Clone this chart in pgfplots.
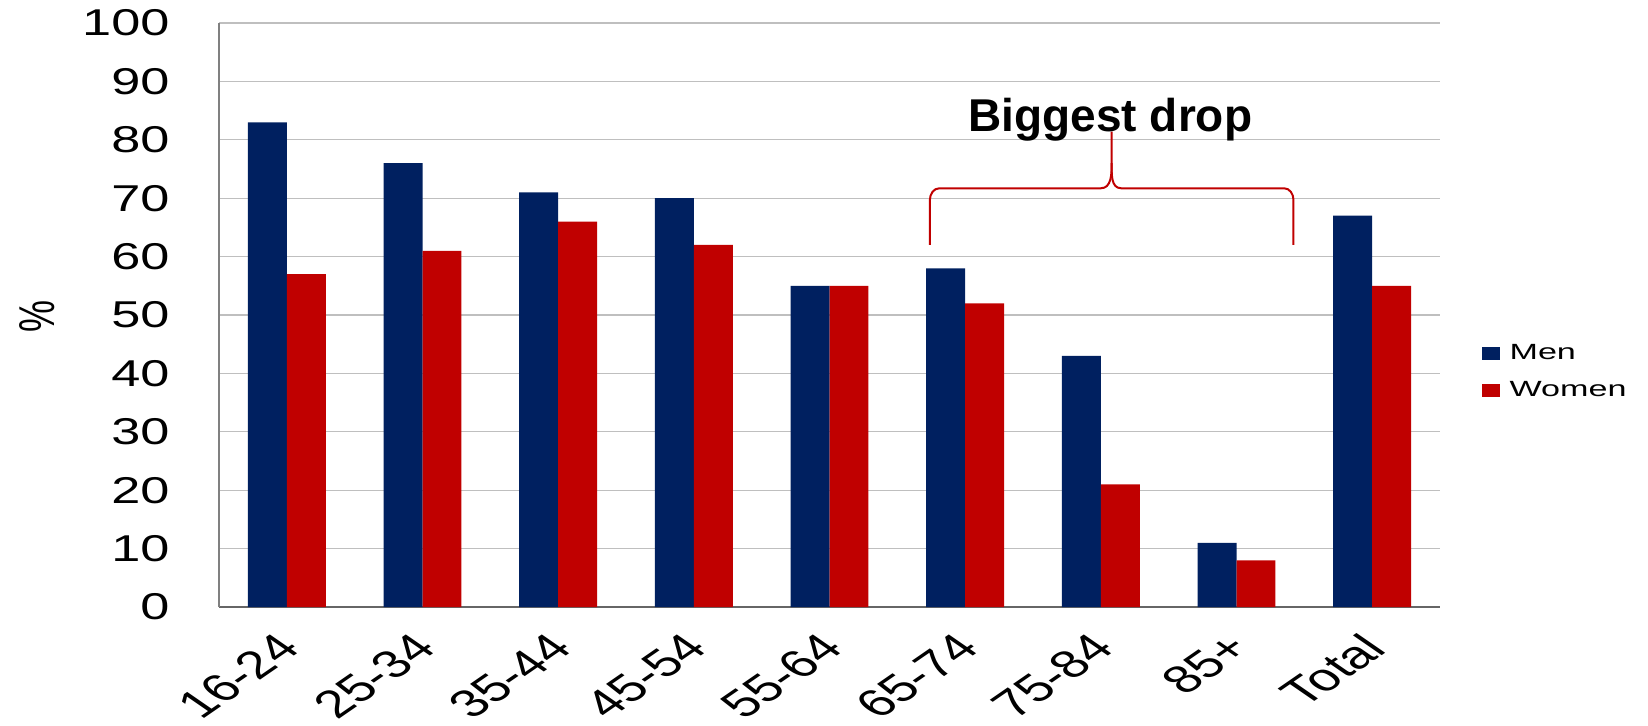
\documentclass[border=0pt]{standalone}
\usepackage{fontspec}
\setmainfont{Liberation Sans}
\newfontfamily\stretchfont{Liberation Sans}[FakeStretch=1.4]
\newfontfamily\legfont{Liberation Sans}[FakeStretch=1.55]
\usepackage{pgfplots}
\pgfplotsset{compat=1.18}
\definecolor{men}{HTML}{002060}
\definecolor{women}{HTML}{C00000}
\definecolor{gridc}{HTML}{BFBFBF}
\begin{document}
\begin{tikzpicture}[x=1pt,y=1pt]
\path[use as bounding box] (0,0) rectangle (1236,543.75);
\begin{axis}[
  at={(164.25pt,88.5pt)}, anchor=south west,
  scale only axis, width=915.75pt, height=438pt,
  xmin=-0.5, xmax=8.5, ymin=0, ymax=100,
  ytick={0,10,...,100},
  xtick={0,...,8},
  xticklabels={16-24,25-34,35-44,45-54,55-64,65-74,75-84,85+,Total},
  ymajorgrids, major grid style={draw=gridc, line width=0.9pt},
  axis x line*=bottom, axis y line*=left,
  x axis line style={draw=black!60, line width=1.6pt, -},
  y axis line style={draw=black!50, line width=0.9pt, -},
  major tick length=0pt, tick style={draw=none},
  /pgf/number format/assume math mode=true,
  yticklabel style={font=\stretchfont\fontsize{28}{30}\selectfont, anchor=east, inner sep=0pt, xshift=-37pt},
  xticklabel style={font=\fontsize{29}{31}\selectfont, anchor=east, inner sep=0pt, xshift=2pt, yshift=-25.5pt, xscale=1.45, rotate=45},
  ylabel={\%},
  ylabel style={at={(axis description cs:-0.149,0.4966)}, anchor=center, font=\fontsize{27}{30}\selectfont, rotate=-90, xscale=1.4, rotate=90},
  legend cell align=left,
  legend image code/.code={\fill[#1, draw=none] (0pt,-4.9pt) rectangle (13.5pt,4.9pt);},
  legend style={draw=none, fill=none, at={(axis description cs:1.0344,0.452)}, anchor=north west, inner sep=0pt, row sep=13pt,
    font=\legfont\fontsize{16.5}{19}\selectfont, nodes={inner sep=1pt},
    /tikz/every odd column/.append style={column sep=6pt}},
]
\addplot[ybar, bar width=0.287, bar shift=-0.1435, fill=men, draw=none]
  coordinates {(0,83) (1,76) (2,71) (3,70) (4,55) (5,58) (6,43) (7,11) (8,67)};
\addlegendentry{Men}
\addplot[ybar, bar width=0.287, bar shift=0.1435, fill=women, draw=none]
  coordinates {(0,57) (1,61) (2,66) (3,62) (4,55) (5,52) (6,21) (7,8) (8,55)};
\addlegendentry{Women}
\draw[women, line width=1.5pt]
  (axis cs:4.74,62) -- (axis cs:4.74,69.7) to[out=90,in=180] (axis cs:4.81,71.7)
  -- (axis cs:6.0,71.7) to[out=0,in=-90] (axis cs:6.08,76) -- (axis cs:6.08,81.4);
\draw[women, line width=1.5pt]
  (axis cs:6.08,76) to[out=-90,in=180] (axis cs:6.15,71.7)
  -- (axis cs:7.35,71.7) to[out=0,in=90] (axis cs:7.42,69.7) -- (axis cs:7.42,62);
\node[font=\bfseries\fontsize{34.5}{40}\selectfont, anchor=base] at (axis cs:6.07,81.4) {Biggest drop};
\end{axis}
\end{tikzpicture}
\end{document}
